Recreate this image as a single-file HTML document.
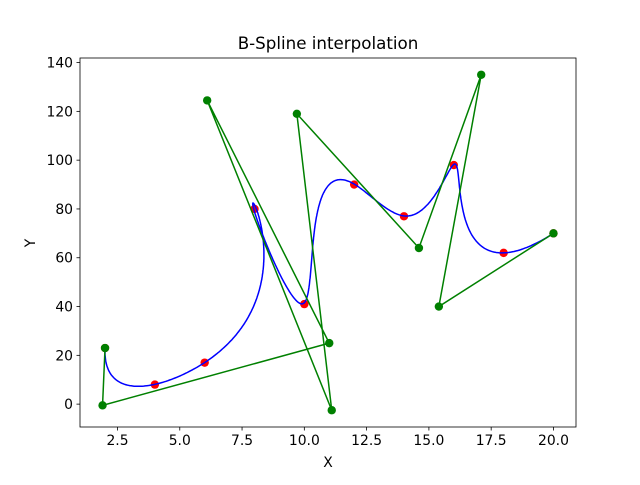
<!DOCTYPE html>
<html><head><meta charset="utf-8"><style>
body{margin:0;background:#fff}
svg text{font-family:"DejaVu Sans","Liberation Sans",sans-serif;font-size:13.9px;fill:#000}
</style></head><body>
<svg id="chart" width="640" height="480" xmlns="http://www.w3.org/2000/svg">
<rect width="640" height="480" fill="#fff"/>
<text x="328" y="49" text-anchor="middle" style="font-size:16.7px">B-Spline interpolation</text>
<text x="328" y="467" text-anchor="middle">X</text>
<text x="35" y="243" text-anchor="middle" transform="rotate(-90 35 243)">Y</text>
<g id="plot"></g>
</svg>
<script>
const dataX=[2,4,6,8,10,12,14,16,18,20];
const dataY=[23,8,17,80,41,90,77,98,62,70];
const ctrlX=[2,1.9,11,6.1,11.1,9.7,14.6,17.1,15.4,20];
const ctrlY=[23,-0.5,25,124.5,-2.5,119,64,135,40,70];
const xTicks=[2.5,5.0,7.5,10.0,12.5,15.0,17.5,20.0];
const yTicks=[0,20,40,60,80,100,120,140];
const L=80,R=576,T=58,B=427;
const xmin=0.995,xmax=20.905,ymin=-9.375,ymax=141.875;
const sx=v=>L+(v-xmin)/(xmax-xmin)*(R-L);
const sy=v=>B-(v-ymin)/(ymax-ymin)*(B-T);
const NS='http://www.w3.org/2000/svg';
const g=document.getElementById('plot');
function mk(t,a){const e=document.createElementNS(NS,t);for(const k in a)e.setAttribute(k,a[k]);g.appendChild(e);return e;}
xTicks.forEach(v=>{
 const l=mk('line',{x1:sx(v),x2:sx(v),y1:B,y2:B+3.5,stroke:'#000','stroke-width':0.8});
 
 
 const t=mk('text',{x:sx(v),y:B+18,'text-anchor':'middle'});t.textContent=v.toFixed(1);
 
 
});
yTicks.forEach(v=>{
 const l=mk('line',{x1:L-3.5,x2:L,y1:sy(v),y2:sy(v),stroke:'#000','stroke-width':0.8});
 
 
 const t=mk('text',{x:L-7,y:sy(v)+5,'text-anchor':'end'});t.textContent=v;
 
 
});
// B-spline with chord-length parameters (FITPACK-style knots)
const n=ctrlX.length,k=3;
const u=[0];
for(let i=1;i<dataX.length;i++)u.push(u[i-1]+Math.hypot(dataX[i]-dataX[i-1],dataY[i]-dataY[i-1]));
const tot=u[u.length-1];for(let i=0;i<u.length;i++)u[i]/=tot;
const knots=[0,0,0,0];
for(let j=2;j<=n-3;j++)knots.push(u[j]);
knots.push(1,1,1,1);
function deBoor(t,P){
 let s=k;while(s<n-1&&t>=knots[s+1])s++;
 const d=[];for(let j=0;j<=k;j++)d.push(P[j+s-k]);
 for(let r=1;r<=k;r++)for(let j=k;j>=r;j--){
  const i=j+s-k,den=knots[i+k+1-r]-knots[i];
  const a=den?(t-knots[i])/den:0;d[j]=(1-a)*d[j-1]+a*d[j];}
 return d[k];
}
let pts=[];
for(let i=0;i<=800;i++){const t=Math.min(i/800,0.999999);pts.push(sx(deBoor(t,ctrlX)).toFixed(1)+','+sy(deBoor(t,ctrlY)).toFixed(1));}
dataX.forEach((x,i)=>{const c=mk('circle',{cx:sx(x),cy:sy(dataY[i]),r:4.2,fill:'#ff0000'});
 
 });
const curve=mk('polyline',{points:pts.join(' '),fill:'none',stroke:'#0000ff','stroke-width':1.5});


const poly=mk('polyline',{points:ctrlX.map((x,i)=>sx(x)+','+sy(ctrlY[i])).join(' '),fill:'none',stroke:'#008000','stroke-width':1.5});


ctrlX.forEach((x,i)=>{const c=mk('circle',{cx:sx(x),cy:sy(ctrlY[i]),r:4.2,fill:'#008000'});
 
 });
const fr=mk('rect',{x:L,y:T,width:R-L,height:B-T,fill:'none',stroke:'#000','stroke-width':0.8});


</script>
</body></html>
